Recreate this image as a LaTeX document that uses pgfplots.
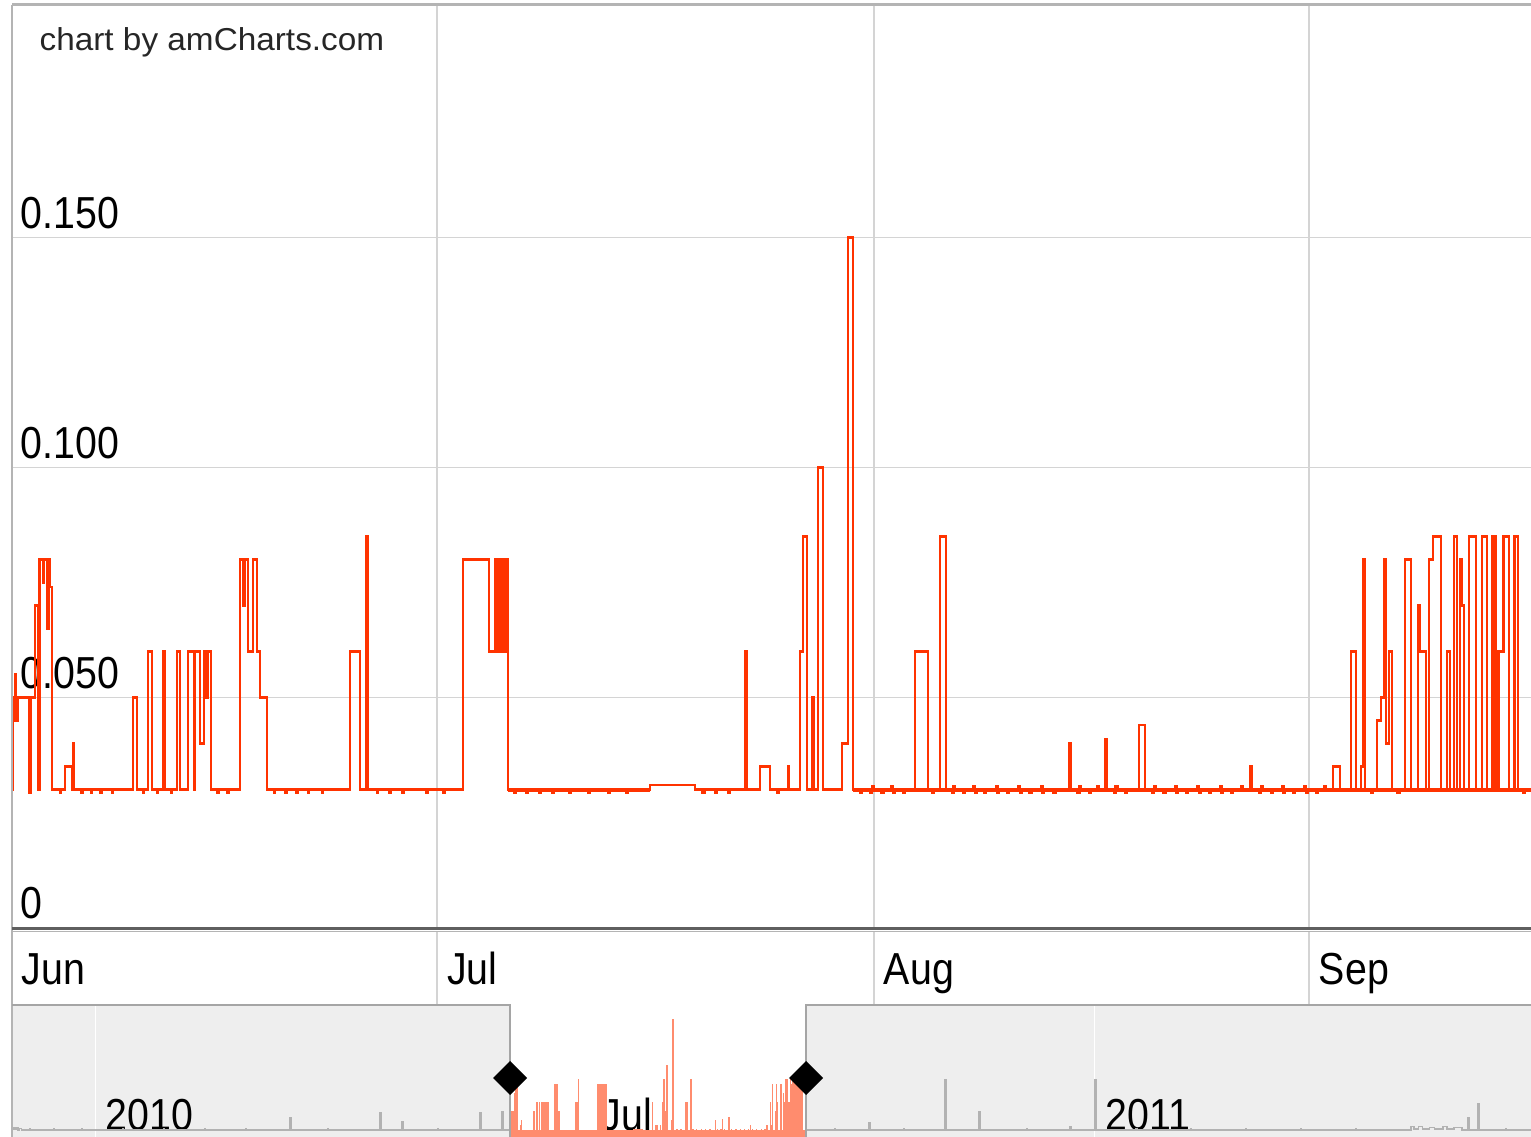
\documentclass[border=0pt]{standalone}
\usepackage{fontspec}
\setmainfont{Liberation Sans}
\usepackage{graphicx}
\usepackage{pgfplots}
\usepackage{pgfplotstable}
\pgfplotsset{compat=1.18}
\definecolor{mainred}{RGB}{255,51,0}
\definecolor{salmon}{RGB}{255,140,110}
\definecolor{gdata}{RGB}{178,178,178}
\definecolor{gridc}{RGB}{212,212,212}
\definecolor{navbg}{RGB}{238,238,238}
\definecolor{bordc}{RGB}{180,180,180}
\definecolor{navb}{RGB}{165,165,165}
\definecolor{darkc}{RGB}{95,95,95}
\newcommand{\lbl}[1]{\scalebox{1}[1.14]{#1}}
\newcommand{\lblfont}{\fontsize{11.8}{13}\selectfont}

\pgfplotstableread{
d v
0.00 0.030
0.04 0.050
0.07 0.045
0.21 0.055
0.28 0.045
0.43 0.050
1.21 0.0293
1.35 0.050
1.63 0.070
1.84 0.030
1.95 0.080
2.20 0.075
2.27 0.080
2.48 0.065
2.59 0.080
2.70 0.074
2.84 0.030
3.40 0.0293
3.48 0.030
3.76 0.035
4.26 0.030
4.33 0.040
4.40 0.030
4.90 0.0293
4.98 0.030
5.60 0.0293
5.68 0.030
6.30 0.0293
6.36 0.030
7.10 0.0293
7.16 0.030
8.58 0.050
8.87 0.030
9.30 0.0293
9.36 0.030
9.65 0.060
9.93 0.030
10.30 0.0293
10.36 0.030
10.71 0.060
10.85 0.030
11.30 0.0293
11.36 0.030
11.70 0.060
11.92 0.030
12.48 0.060
12.91 0.030
12.98 0.060
13.34 0.040
13.62 0.060
13.76 0.050
13.90 0.060
14.12 0.030
14.60 0.0293
14.66 0.030
15.30 0.0293
15.36 0.030
16.17 0.080
16.39 0.070
16.53 0.080
16.74 0.060
17.09 0.080
17.38 0.060
17.59 0.050
18.09 0.030
18.60 0.0293
18.66 0.030
19.40 0.0293
19.46 0.030
20.20 0.0293
20.26 0.030
21.00 0.0293
21.06 0.030
22.00 0.0293
22.06 0.030
23.98 0.060
24.68 0.030
25.11 0.085
25.25 0.030
25.90 0.0293
25.96 0.030
26.80 0.0293
26.86 0.030
27.70 0.0293
27.76 0.030
29.40 0.0293
29.50 0.030
30.60 0.0293
30.70 0.030
31.99 0.080
33.83 0.060
34.26 0.080
34.40 0.060
34.54 0.080
34.69 0.060
34.83 0.080
34.97 0.060
35.04 0.080
35.18 0.030
35.60 0.0293
35.70 0.030
36.50 0.0293
36.60 0.030
37.40 0.0293
37.50 0.030
38.30 0.0293
38.40 0.030
39.50 0.0293
39.60 0.030
40.90 0.0293
41.00 0.030
42.30 0.0293
42.40 0.030
43.60 0.0293
43.70 0.030
45.26 0.031
48.45 0.030
49.00 0.0293
49.10 0.030
49.90 0.0293
50.00 0.030
50.80 0.0293
50.90 0.030
51.99 0.060
52.13 0.030
53.06 0.035
53.77 0.030
54.30 0.0293
54.40 0.030
55.04 0.035
55.11 0.030
55.89 0.060
56.10 0.085
56.39 0.030
56.75 0.050
56.89 0.030
57.17 0.100
57.53 0.030
58.87 0.040
59.30 0.150
59.65 0.030
60.20 0.0293
60.30 0.030
60.90 0.0293
61.00 0.0306
61.10 0.030
61.70 0.0293
61.80 0.030
62.40 0.0306
62.50 0.0293
62.60 0.030
63.20 0.0293
63.30 0.030
64.05 0.060
64.97 0.030
65.30 0.0293
65.40 0.030
65.82 0.085
66.25 0.030
66.70 0.0293
66.80 0.0306
66.90 0.030
67.50 0.0293
67.60 0.030
68.20 0.0306
68.30 0.0293
68.40 0.030
69.00 0.0293
69.10 0.030
69.80 0.0306
69.90 0.0293
70.00 0.030
70.60 0.0293
70.70 0.030
71.40 0.0306
71.50 0.0293
71.60 0.030
72.20 0.0293
72.30 0.030
73.00 0.0306
73.10 0.0293
73.20 0.030
73.90 0.0293
74.00 0.030
74.98 0.040
75.12 0.030
75.60 0.0293
75.70 0.0306
75.80 0.030
76.40 0.0293
76.50 0.030
77.00 0.0306
77.10 0.030
77.53 0.041
77.67 0.030
78.20 0.0293
78.30 0.0306
78.40 0.030
79.00 0.0293
79.10 0.030
79.94 0.044
80.37 0.030
80.90 0.0293
81.00 0.0306
81.10 0.030
81.70 0.0293
81.80 0.030
82.50 0.0306
82.60 0.0293
82.70 0.030
83.30 0.0293
83.40 0.030
84.10 0.0306
84.20 0.0293
84.30 0.030
84.90 0.0293
85.00 0.030
85.70 0.0306
85.80 0.0293
85.90 0.030
86.50 0.0293
86.60 0.030
87.20 0.0306
87.30 0.030
87.81 0.035
87.96 0.030
88.50 0.0293
88.60 0.0306
88.70 0.030
89.30 0.0293
89.40 0.030
90.10 0.0306
90.20 0.0293
90.30 0.030
90.90 0.0293
91.00 0.030
91.70 0.0306
91.80 0.0293
91.90 0.030
92.50 0.0293
92.60 0.030
93.10 0.0306
93.20 0.030
93.70 0.035
94.20 0.030
94.98 0.060
95.33 0.030
95.69 0.035
95.83 0.080
95.97 0.030
96.40 0.0293
96.50 0.030
96.82 0.045
97.11 0.050
97.32 0.080
97.46 0.040
97.67 0.060
97.89 0.030
98.30 0.0293
98.40 0.030
98.81 0.080
99.23 0.030
99.73 0.070
99.87 0.060
100.30 0.030
100.51 0.080
100.79 0.085
101.36 0.030
101.79 0.060
102.00 0.030
102.28 0.085
102.50 0.030
102.71 0.080
102.85 0.070
102.99 0.030
103.35 0.085
103.84 0.030
104.27 0.085
104.62 0.030
105.04 0.085
105.25 0.030
105.46 0.060
105.82 0.085
106.18 0.030
106.60 0.085
106.82 0.030
107.20 0.0293
107.30 0.030
107.75 0.030
}\maindata

\pgfplotstableread{
d v
-30.30 0.031
-29.60 0.033
-29.20 0.031
-28.60 0.033
-28.10 0.030
-27.50 0.032
-26.90 0.030
-24.00 0.031
-23.70 0.030
-15.00 0.031
-14.70 0.030
-5.00 0.031
-4.70 0.030
10.00 0.031
10.30 0.030
25.00 0.031
25.30 0.030
40.00 0.031
40.30 0.030
55.00 0.031
55.30 0.030
71.20 0.043
71.60 0.030
85.00 0.031
85.30 0.030
104.00 0.0485
104.40 0.030
112.10 0.039
112.50 0.030
125.00 0.031
125.30 0.030
140.50 0.0485
140.90 0.030
148.60 0.050
149.00 0.030
151.40 0.030
}\navleft

\pgfplotstableread{
d v
259.15 0.030
270.00 0.031
270.30 0.030
282.50 0.0376
282.90 0.030
295.00 0.031
295.30 0.030
310.30 0.0845
310.70 0.030
322.70 0.0497
323.10 0.030
340.00 0.031
340.30 0.030
355.90 0.034
356.30 0.030
365.00 0.085
365.40 0.030
380.00 0.031
380.30 0.030
400.00 0.031
400.30 0.030
420.00 0.031
420.30 0.030
440.00 0.031
440.30 0.030
460.00 0.031
460.30 0.030
480.30 0.034
481.50 0.031
483.00 0.034
484.50 0.031
487.00 0.033
489.00 0.031
492.00 0.034
493.50 0.031
496.00 0.033
499.00 0.030
501.20 0.043
501.60 0.030
504.80 0.059
505.20 0.030
515.00 0.031
515.30 0.030
524.15 0.030
}\navright

\begin{document}
\begin{tikzpicture}[x=0.3pt,y=0.3pt]
\path[use as bounding box] (0,0) rectangle (1531,1137);
% navigator background
\fill[navbg] (12,0) rectangle (510,132);
\fill[navbg] (806,0) rectangle (1531,132);

% main chart
\begin{axis}[
  at={(3.6pt,62.85pt)}, anchor=south west,
  width=455.7pt, height=276.75pt, scale only axis,
  xmin=0, xmax=107.75, ymin=0, ymax=0.2005,
  axis line style={draw=none},
  xtick={0,30.15,61.14,92}, xticklabels={\lbl{Jun},\lbl{Jul},\lbl{Aug},\lbl{Sep}},
  ytick={0,0.05,0.1,0.15}, yticklabels={\lbl{0},\lbl{0.050},\lbl{0.100},\lbl{0.150}},
  major tick length=0,
  grid=major, grid style={line width=0.36pt, color=gridc},
  xticklabel style={anchor=base west, inner sep=0pt, xshift=2.8pt, yshift=-17.25pt, font=\lblfont},
  yticklabel style={anchor=base west, inner sep=0pt, xshift=2.4pt, yshift=2.7pt, font=\lblfont},
]
% dense baseline noise band (Aug-Sep), drawn as a thicker stroke
\addplot[mainred, line width=1.25pt, mark=none] coordinates {(59.65,0.0299) (107.75,0.0299)};
\addplot[mainred, line width=1.0pt, mark=none] coordinates {(35.18,0.0299) (45.26,0.0299)};
\addplot[const plot mark left, mainred, line width=0.8pt, mark=none] table[x=d,y=v] {\maindata};
\end{axis}

% navigator
\begin{axis}[
  at={(3.6pt,0pt)}, anchor=south west,
  width=455.7pt, height=39.6pt, scale only axis,
  xmin=-30.3, xmax=524.15, ymin=0.02237, ymax=0.16632,
  axis line style={draw=none},
  xtick={0,181,365}, xticklabels={\lbl{2010},\lbl{Jul},\lbl{2011}},
  ytick=\empty,
  major tick length=0,
  xmajorgrids, grid style={line width=0.3pt, color=white},
  xticklabel style={anchor=base west, inner sep=0pt, xshift=3pt, yshift=2.1pt, font=\lblfont},
]
\addplot[const plot mark left, fill=salmon, draw=salmon, line width=0.3pt, mark=none]
  table[x expr=\thisrow{d}+151.4, y=v] {\maindata} \closedcycle;
\addplot[const plot mark left, gdata, line width=0.4pt, mark=none] table[x=d,y=v] {\navleft};
\addplot[const plot mark left, gdata, line width=0.4pt, mark=none] table[x=d,y=v] {\navright};
\end{axis}

% frame
\draw[bordc, line width=0.6pt] (12,1132) -- (12,0);
\draw[bordc, line width=0.9pt] (12,1132) -- (1531,1132);
\draw[darkc, line width=0.75pt] (12,208.5) -- (1531,208.5);
\draw[bordc, line width=0.45pt] (12,205.6) -- (1531,205.6);
% month band grid continuation
\foreach \xx in {437,874,1309} \draw[gridc, line width=0.36pt] (\xx,205) -- (\xx,132);
% navigator borders
\draw[navb, line width=0.6pt] (12,132) -- (510,132) -- (510,0);
\draw[navb, line width=0.6pt] (806,0) -- (806,132) -- (1531,132);
% handles
\fill[black] (510,76) -- (527,59) -- (510,42) -- (493,59) -- cycle;
\fill[black] (806,76) -- (823,59) -- (806,42) -- (789,59) -- cycle;
% credit
\node[anchor=base west, inner sep=0pt, font=\fontsize{10}{12}\selectfont, text=black!85] at (39,1086.3) {\scalebox{1}[0.95]{chart by amCharts.com}};
\end{tikzpicture}
\end{document}
